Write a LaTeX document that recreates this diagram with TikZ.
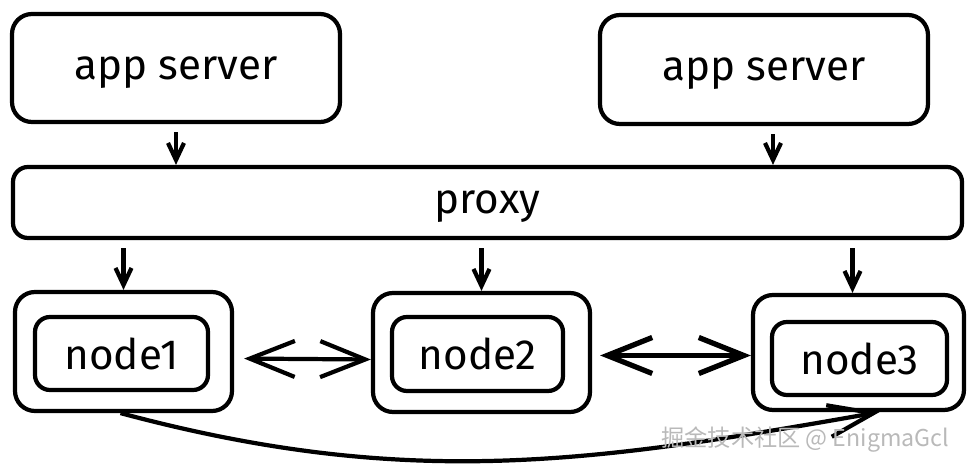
\documentclass[tikz,border=0pt]{standalone}
\usepackage{fontspec}
\setmainfont{Fira Sans}
\newfontfamily\cjk{Noto Sans CJK SC}
\usetikzlibrary{arrows.meta}
\begin{document}
\begin{tikzpicture}[x=1cm, y=-1cm, line width=1.2pt,
		box/.style={draw, rounded corners=0.2cm, inner sep=0pt, text depth=0pt, font=\fontsize{12}{14}\selectfont},
		inbox/.style={draw, rounded corners=0.15cm, inner sep=0pt, font=\fontsize{12}{14}\selectfont},
		arr/.style={-{Straight Barb[length=0.17cm,width=0.16cm]}, shorten <=0.08cm},
		dbl/.style={{Straight Barb[length=0.45cm,width=0.36cm]}-{Straight Barb[length=0.45cm,width=0.36cm]}}]
			\useasboundingbox (0,0) rectangle (9.78,4.74);
			\node[box, minimum width=3.28cm, minimum height=1.08cm] (app1) at (1.76,0.68) {app server};
			\node[box, minimum width=3.28cm, minimum height=1.09cm] (app2) at (7.64,0.695) {app server};
			\node[box, rounded corners=0.15cm, minimum width=9.49cm, minimum height=0.71cm] (proxy) at (4.875,2.025) {proxy};
			\node[box, minimum width=2.17cm, minimum height=1.19cm] (n1o) at (1.235,3.515) {};
			\node[inbox, minimum width=1.73cm, minimum height=0.73cm] (n1) at (1.215,3.535) {node1};
			\node[box, minimum width=2.17cm, minimum height=1.19cm] (n2o) at (4.815,3.525) {};
			\node[inbox, minimum width=1.71cm, minimum height=0.74cm] (n2) at (4.775,3.54) {node2};
			\node[box, minimum width=2.11cm, minimum height=1.15cm] (n3o) at (8.585,3.525) {};
			\node[inbox, minimum width=1.75cm, minimum height=0.73cm] (n3) at (8.595,3.585) {node3};
			\draw [arr] (app1.south) -- (app1.south |- proxy.north);
			\draw [arr] ([xshift=0.09cm]app2.south) -- ([xshift=0.09cm]app2.south |- proxy.north);
			\draw [arr] (n1o.north |- proxy.south) -- (n1o.north);
			\draw [arr] (n2o.north |- proxy.south) -- (n2o.north);
			\draw [arr] ([xshift=-0.06cm]n3o.north |- proxy.south) -- ([xshift=-0.06cm]n3o.north);
			\draw [dbl, shorten <=0.1cm] ([yshift=-0.07cm]n1o.east) -- ([yshift=-0.07cm]n2o.west);
			\draw [dbl, line width=1.5pt, shorten <=0.08cm] ([yshift=-0.03cm]n2o.east) -- ([yshift=-0.03cm]n3o.west);
			\draw [-{Straight Barb[length=0.45cm,width=0.32cm]}] ([xshift=-0.03cm]n1o.south) to[out=-15, in=190] ([xshift=0.21cm]n3o.south);
			\node[text=gray!55, font=\cjk\fontsize{6.6}{8}\selectfont, anchor=east] (wm) at (9.63,4.40) {掘金技术社区 @ EnigmaGcl};
\end{tikzpicture}
\end{document}
